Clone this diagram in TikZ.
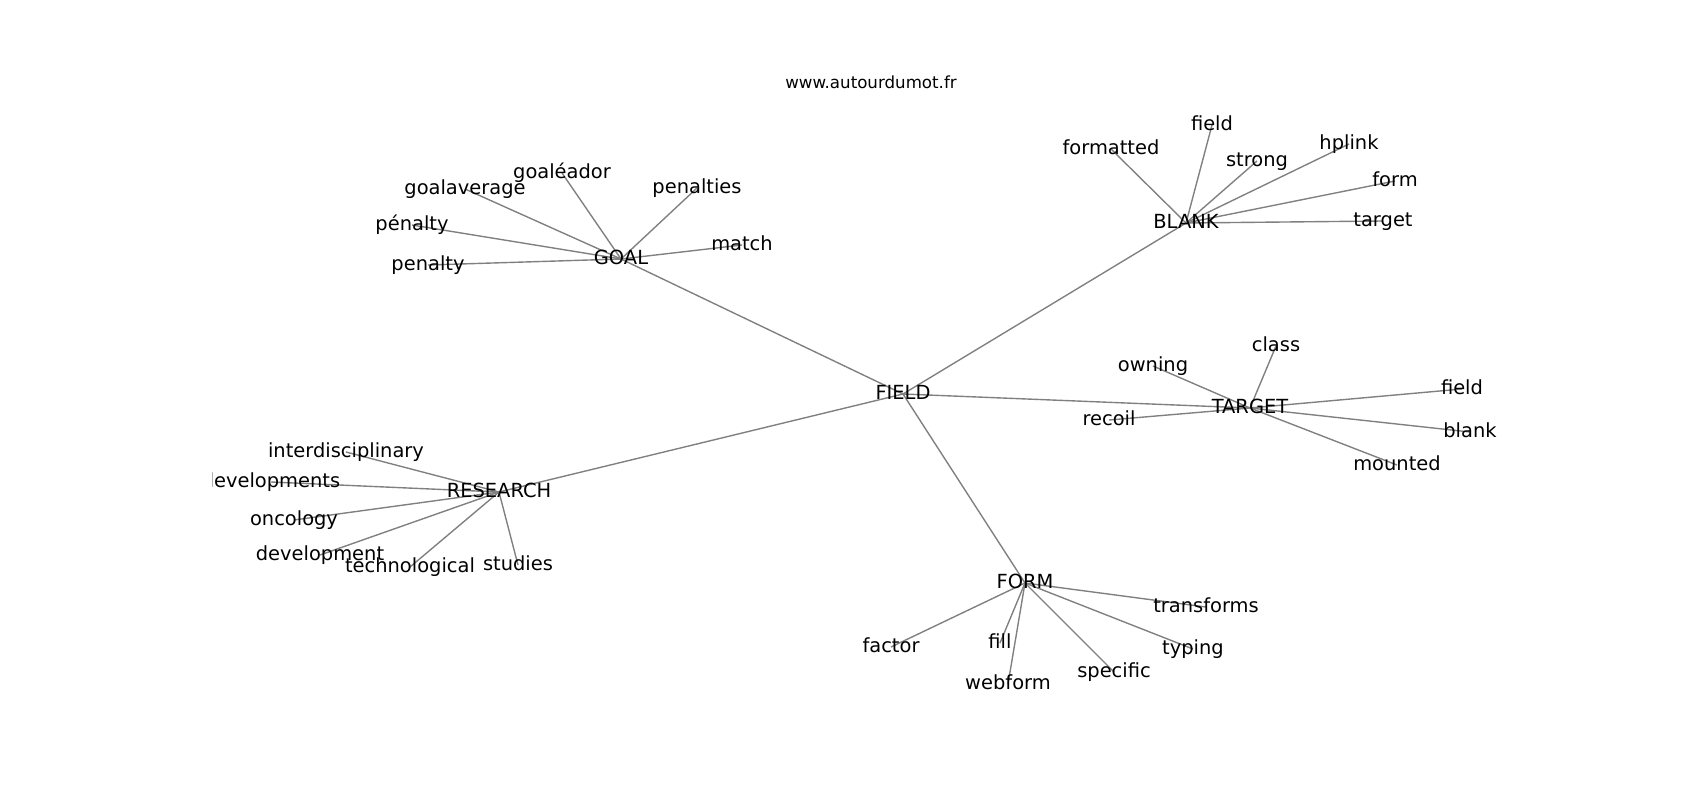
\documentclass[tikz,border=0pt]{standalone}
\usepackage{fontspec}
\setmainfont{DejaVu Sans}
\usetikzlibrary{backgrounds}
\begin{document}
\begin{tikzpicture}[x=0.254mm, y=-0.254mm,
  word/.style={inner sep=0pt, font=\fontsize{14bp}{17bp}\selectfont, text height=10.64bp, text depth=3.36bp},
  link/.style={draw=black!50, line width=1bp}]
\useasboundingbox (0,0) rectangle (1700,800);
\node[inner sep=0pt, font=\fontsize{12bp}{14bp}\selectfont, text height=9.1bp, text depth=2.9bp] (title) at (871,84) {www.autourdumot.fr};
\begin{scope}
\clip (212.5,96) rectangle (1530,712);
\node[word] (field) at (903,394) {FIELD};
% goal
\node[word] (goal) at (621,259) {GOAL};
\node[word] (goaleador) at (562,173) {goaléador};
\node[word] (goalaverage) at (465,189) {goalaverage};
\node[word] (penalties) at (697,188) {penalties};
\node[word] (penalty2) at (412,225) {pénalty};
\node[word] (match) at (742,245) {match};
\node[word] (penalty) at (428,265) {penalty};
% blank
\node[word] (blank) at (1186,223) {BLANK};
\node[word] (formatted) at (1111,149) {formatted};
\node[word] (bfield) at (1212,125) {field};
\node[word] (strong) at (1257,161) {strong};
\node[word] (hplink) at (1349,144) {hplink};
\node[word] (bform) at (1395,181) {form};
\node[word] (btarget) at (1383,221) {target};
% target
\node[word] (target) at (1250,408) {TARGET};
\node[word] (class) at (1276,346) {class};
\node[word] (owning) at (1153,366) {owning};
\node[word] (tfield) at (1462,389) {field};
\node[word] (recoil) at (1109,420) {recoil};
\node[word] (tblank) at (1470,432) {blank};
\node[word] (mounted) at (1397,465) {mounted};
% research
\node[word] (research) at (499,492) {RESEARCH};
\node[word] (interdisciplinary) at (346,452) {interdisciplinary};
\node[word] (developments) at (271,482) {developments};
\node[word] (oncology) at (294,520) {oncology};
\node[word] (development) at (320,555) {development};
\node[word] (technological) at (410,567) {technological};
\node[word] (studies) at (518,565) {studies};
% form
\node[word] (form) at (1025,583) {FORM};
\node[word] (transforms) at (1206,607) {transforms};
\node[word] (factor) at (891,647) {factor};
\node[word] (fill) at (1000,643) {fill};
\node[word] (typing) at (1193,649) {typing};
\node[word] (specific) at (1114,672) {specific};
\node[word] (webform) at (1008,684) {webform};
\end{scope}
\begin{scope}[on background layer]
\draw[link] (field.center) -- (goal.center);
\draw[link] (field.center) -- (blank.center);
\draw[link] (field.center) -- (target.center);
\draw[link] (field.center) -- (research.center);
\draw[link] (field.center) -- (form.center);
\draw[link] (goal.center) -- (goaleador.center);
\draw[link] (goal.center) -- (goalaverage.center);
\draw[link] (goal.center) -- (penalties.center);
\draw[link] (goal.center) -- (penalty2.center);
\draw[link] (goal.center) -- (match.center);
\draw[link] (goal.center) -- (penalty.center);
\draw[link] (blank.center) -- (formatted.center);
\draw[link] (blank.center) -- (bfield.center);
\draw[link] (blank.center) -- (strong.center);
\draw[link] (blank.center) -- (hplink.center);
\draw[link] (blank.center) -- (bform.center);
\draw[link] (blank.center) -- (btarget.center);
\draw[link] (target.center) -- (class.center);
\draw[link] (target.center) -- (owning.center);
\draw[link] (target.center) -- (tfield.center);
\draw[link] (target.center) -- (recoil.center);
\draw[link] (target.center) -- (tblank.center);
\draw[link] (target.center) -- (mounted.center);
\draw[link] (research.center) -- (interdisciplinary.center);
\draw[link] (research.center) -- (developments.center);
\draw[link] (research.center) -- (oncology.center);
\draw[link] (research.center) -- (development.center);
\draw[link] (research.center) -- (technological.center);
\draw[link] (research.center) -- (studies.center);
\draw[link] (form.center) -- (transforms.center);
\draw[link] (form.center) -- (factor.center);
\draw[link] (form.center) -- (fill.center);
\draw[link] (form.center) -- (typing.center);
\draw[link] (form.center) -- (specific.center);
\draw[link] (form.center) -- (webform.center);
\end{scope}
\end{tikzpicture}
\end{document}
